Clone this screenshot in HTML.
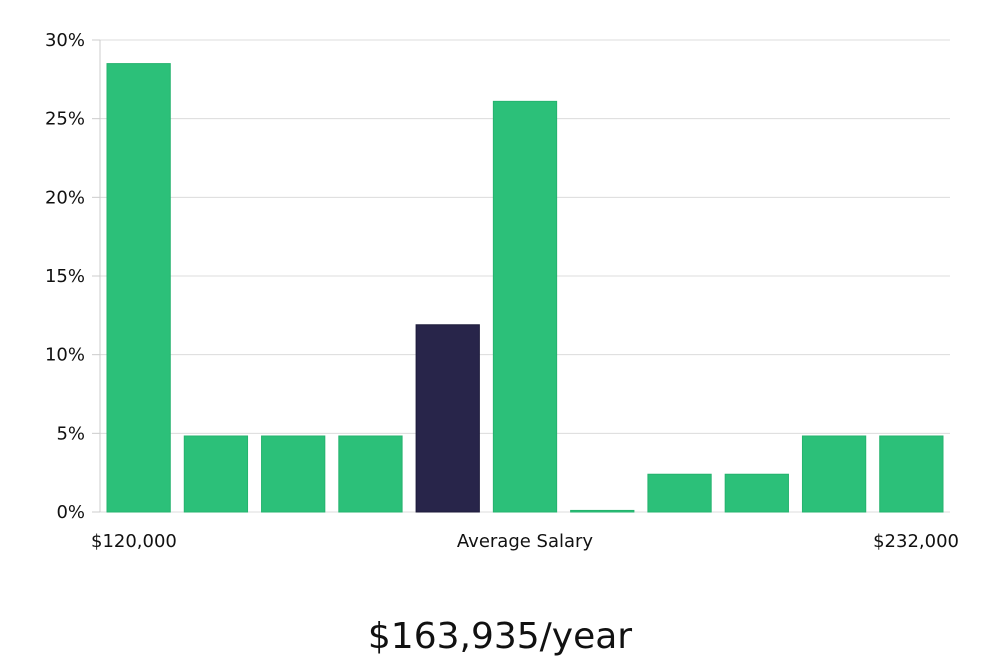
<!DOCTYPE html>
<html><head><meta charset="utf-8"><style>
body{margin:0;background:#fff;width:1000px;height:660px;overflow:hidden}
svg text{font-family:"DejaVu Sans","Liberation Sans",sans-serif}
</style></head><body>
<svg id="chart" width="1000" height="660" xmlns="http://www.w3.org/2000/svg"></svg>
<script>
const categories = ["b1","b2","b3","b4","b5","b6","b7","b8","b9","b10","b11"];
const values = [28.5,4.83,4.83,4.83,11.9,26.1,0.1,2.4,2.4,4.83,4.83];
const highlight = [false,false,false,false,true,false,false,false,false,false,false];
const yTicks = [0,5,10,15,20,25,30];
const yTickLabels = ["0%","5%","10%","15%","20%","25%","30%"];
const xLabels = ["$120,000","Average Salary","$232,000"];
const NS="http://www.w3.org/2000/svg";
const svg=document.getElementById('chart');
const L=100,R=950,T=40,B=512,yMax=30;
const y=v=>B-(v/yMax)*(B-T);
const band=(R-L)/categories.length;
const x=i=>L+i*band;
function mk(tag,attrs){const e=document.createElementNS(NS,tag);for(const k in attrs)e.setAttribute(k,attrs[k]);svg.appendChild(e);return e;}
yTicks.forEach((t,i)=>{
  const g=mk('line',{x1:L,x2:R,y1:y(t),y2:y(t),stroke:'#dcdcdc','stroke-width':1});
  
  
  const tk=mk('line',{x1:L-8,x2:L,y1:y(t),y2:y(t),stroke:'#ccc','stroke-width':1});
  
  
  const tx=mk('text',{x:85,y:y(t)+6,'text-anchor':'end','font-size':18,fill:'#111'});
  tx.textContent=yTickLabels[i];
  
  
});
const ax=mk('line',{x1:L,x2:L,y1:T,y2:B,stroke:'#ccc','stroke-width':1});


values.forEach((v,i)=>{
  const r=mk('rect',{x:x(i)+7,y:y(v),width:band-14,height:Math.max(B-y(v),1),
    fill:highlight[i]?'#28254a':'#2cc079',stroke:highlight[i]?'#1c1a3a':'#25b36e','stroke-width':1});
  
  
});
const xl=[[91,'start'],[525,'middle'],[959,'end']];
xLabels.forEach((s,i)=>{
  const t=mk('text',{x:xl[i][0],y:547,'text-anchor':xl[i][1],'font-size':18,fill:'#111'});
  t.textContent=s;
  
  
});
const s=mk('text',{x:500,y:648,'text-anchor':'middle','font-size':36,fill:'#111'});
s.textContent="$163,935/year";


</script>
</body></html>
